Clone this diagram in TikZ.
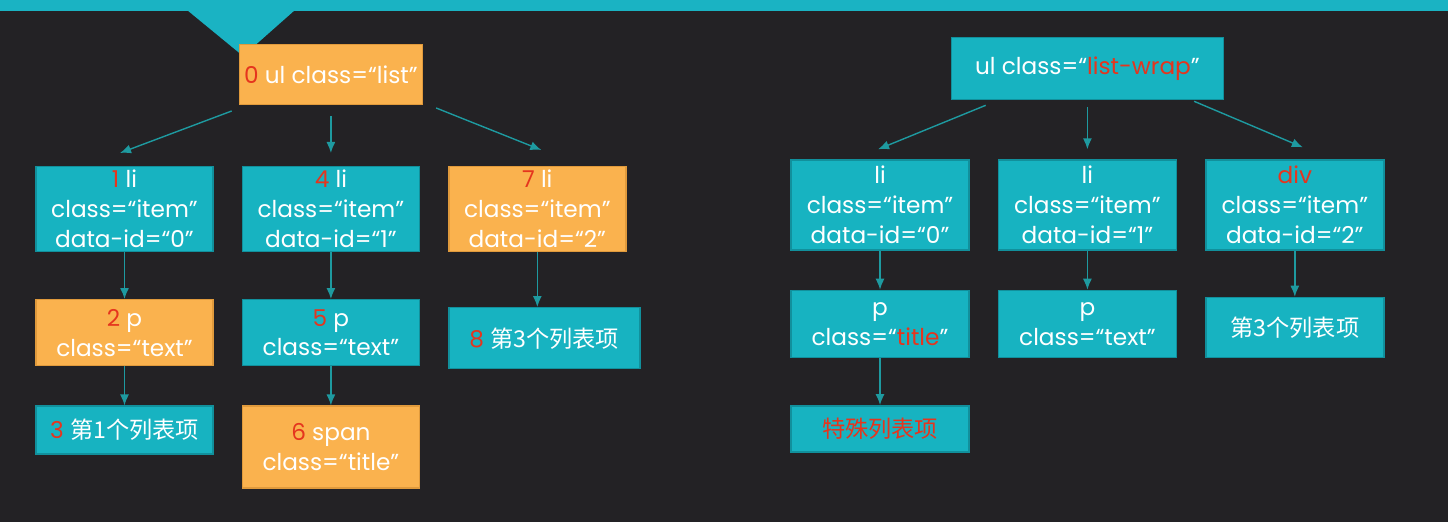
\documentclass[tikz,border=0pt]{standalone}
\usepackage{fontspec}
\setmainfont{Poppins}
\newfontfamily\cjk{Noto Sans CJK SC}
\usetikzlibrary{arrows.meta, positioning, calc}
\definecolor{BgDark}{HTML}{232225}
\definecolor{BarTeal}{HTML}{1AB3C3}
\definecolor{BoxTeal}{HTML}{17B3C1}
\definecolor{LineTeal}{HTML}{11909C}
\definecolor{BoxOrange}{HTML}{FAB24E}
\definecolor{LineOrange}{HTML}{E09A3C}
\definecolor{ArrowTeal}{HTML}{1E9AA0}
\definecolor{NumRed}{HTML}{E5351E}
\newcommand{\nr}[1]{\textcolor{NumRed}{#1}}
\tikzset{
  tealbox/.style={draw=LineTeal, line width=0.8pt, fill=BoxTeal, text=white, align=center, inner sep=2pt, font=\fontsize{13.2}{17}\selectfont},
  orangebox/.style={tealbox, draw=LineOrange, fill=BoxOrange},
  arrow/.style={-{Latex[length=2.2mm, width=1.8mm]}, line width=0.8pt, draw=ArrowTeal}
}

\begin{document}
\begin{tikzpicture}[
  node distance=0.94cm and 0.56cm
]
% background and top bar
\fill[BgDark] (0,0) rectangle (28.96,-10.44);
\fill[BarTeal] (0,0) rectangle (28.96,-0.22);
\fill[BarTeal] (3.74,-0.2) -- (5.9,-0.2) -- (4.86,-1.12) -- cycle;

% left tree
\node[tealbox, minimum width=3.54cm, minimum height=1.64cm] (li1) at (2.49,-4.18) {\nr{1} li\\class=“item”\\data-id=“0”};
\node[tealbox, right=of li1, minimum width=3.54cm, minimum height=1.64cm] (li4) {\nr{4} li\\class=“item”\\data-id=“1”};
\node[orangebox, right=of li4, minimum width=3.54cm, minimum height=1.64cm] (li7) {\nr{7} li\\class=“item”\\data-id=“2”};
\node[orangebox, above=1.22cm of li4, minimum width=3.66cm, minimum height=1.2cm] (ul) {\nr{0} ul class=“list”};

\node[orangebox, below=of li1, minimum width=3.54cm, minimum height=1.32cm] (p2) {\nr{2} p\\class=“text”};
\node[tealbox, below=0.78cm of p2, minimum width=3.54cm, minimum height=0.96cm] (t3) {\nr{3} {\cjk 第1个列表项}};
\node[tealbox, below=of li4, minimum width=3.54cm, minimum height=1.32cm] (p5) {\nr{5} p\\class=“text”};
\node[orangebox, below=0.78cm of p5, minimum width=3.54cm, minimum height=1.64cm] (span6) {\nr{6} span\\class=“title”};
\node[tealbox, below right=1.1cm and 0cm of li7.south west, minimum width=3.82cm, minimum height=1.22cm] (t8) {\nr{8} {\cjk 第3个列表项}};

\draw[arrow] ($(ul.south west)+(-0.14,-0.12)$) -- ($(li1.north)+(-0.09,0.26)$);
\draw[arrow, shorten <=0.22cm, shorten >=0.26cm] (ul.south -| li4) -- (li4.north);
\draw[arrow] ($(ul.south east)+(0.26,-0.06)$) -- ($(li7.north)+(0.08,0.32)$);
\draw[arrow] (li1) -- (p2);
\draw[arrow] (p2) -- (t3);
\draw[arrow] (li4) -- (p5);
\draw[arrow] (p5) -- (span6);
\draw[arrow] (li7.south) -- (li7.south |- t8.north);

% right tree
\node[tealbox, minimum width=3.56cm, minimum height=1.8cm] (wli0) at (17.6,-4.1) {li\\class=“item”\\data-id=“0”};
\node[tealbox, right=of wli0, minimum width=3.56cm, minimum height=1.8cm] (wli1) {li\\class=“item”\\data-id=“1”};
\node[tealbox, right=of wli1, minimum width=3.56cm, minimum height=1.8cm] (wdiv) {\nr{div}\\class=“item”\\data-id=“2”};
\node[tealbox, above=1.18cm of wli1, minimum width=5.44cm, minimum height=1.24cm] (wrap) {ul class=“\nr{list-wrap}”};

\node[tealbox, below=0.78cm of wli0, minimum width=3.56cm, minimum height=1.34cm] (wp0) {p\\class=“\nr{title}”};
\node[tealbox, below=0.78cm of wli1, minimum width=3.56cm, minimum height=1.34cm] (wp1) {p\\class=“text”};
\node[tealbox, below=0.92cm of wdiv, minimum width=3.56cm, minimum height=1.2cm] (wt2) {{\cjk 第3个列表项}};
\node[tealbox, below=of wp0, minimum width=3.56cm, minimum height=0.92cm] (wspecial) {{\cjk\color{NumRed} 特殊列表项}};

\draw[arrow] ($(wrap.south west)+(0.7,-0.1)$) -- ($(wli0.north)+(-0.04,0.2)$);
\draw[arrow, shorten <=0.14cm, shorten >=0.2cm] (wrap) -- (wli1);
\draw[arrow] ($(wrap.south east)+(-0.6,-0.02)$) -- ($(wdiv.north)+(0.16,0.24)$);
\draw[arrow] (wli0) -- (wp0);
\draw[arrow] (wp0) -- (wspecial);
\draw[arrow] (wli1) -- (wp1);
\draw[arrow] (wdiv) -- (wt2);
\end{tikzpicture}
\end{document}
